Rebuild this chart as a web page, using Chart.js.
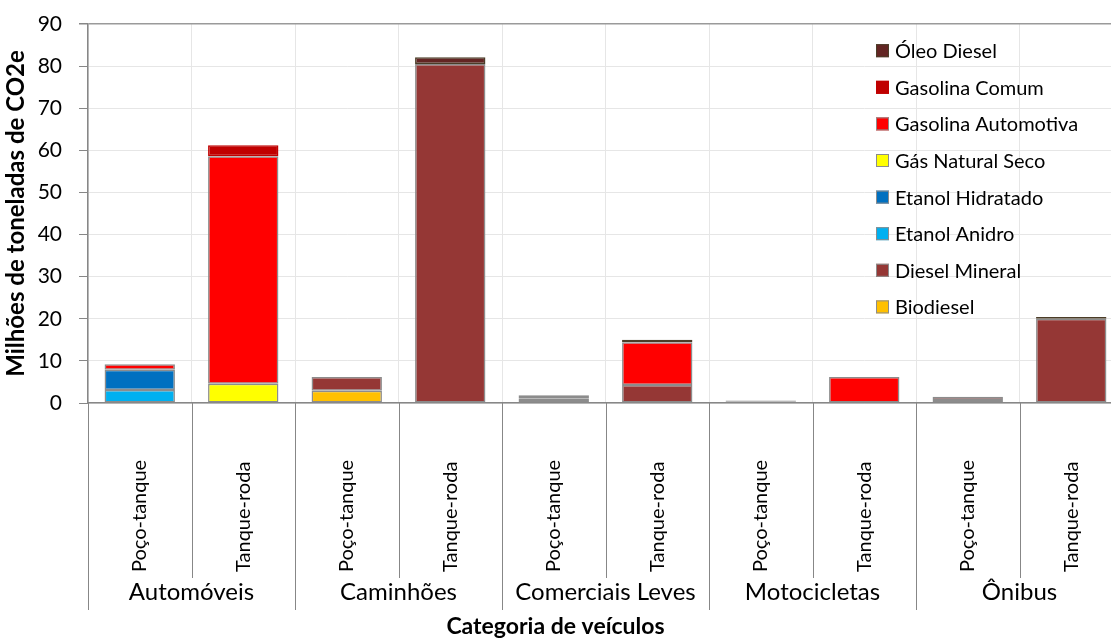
<!DOCTYPE html>
<html>
<head>
<meta charset="utf-8">
<script src="https://cdn.jsdelivr.net/npm/chart.js@4/dist/chart.umd.min.js"></script>
<style>
  html, body { margin: 0; padding: 0; background: #fff; overflow: hidden; }
  #wrap { width: 1111px; height: 639px; overflow: hidden; }
  canvas { display: block; }
</style>
</head>
<body>
<div id="wrap"><canvas id="c" width="1150" height="639"></canvas></div>
<script>
// Vehicle groups and life-cycle stages (two bars per group)
const groups = ['Automóveis', 'Caminhões', 'Comerciais Leves', 'Motocicletas', 'Ônibus'];
const stages = ['Poço-tanque', 'Tanque-roda'];
const categories = groups.flatMap(g => stages.map(s => s));

// Emissions by fuel, million tonnes CO2e, in category order
const biodiesel       = [0,   0,    2.9, 0,    0.1, 0,    0,   0,   0.7, 0];
const dieselMineral   = [0,   0,    3.3, 80.5, 0.4, 4.3,  0,   0,   0.8, 20.0];
const etanolAnidro    = [3.1, 0,    0,   0,    0.6, 0,    0.2, 0,   0,   0];
const etanolHidratado = [4.8, 0,    0,   0,    0.6, 0,    0.2, 0,   0,   0];
const gasNaturalSeco  = [0,   4.6,  0,   0,    0,   0,    0,   0,   0,   0];
const gasolinaAuto    = [1.3, 54.0, 0,   0,    0.2, 10.1, 0.2, 6.2, 0,   0];
const gasolinaComum   = [0,   2.6,  0,   0,    0,   0,    0,   0,   0,   0];
const oleoDiesel      = [0,   0,    0,   1.6,  0,   0.6,  0,   0,   0,   0.4];

const yTicks = [0, 10, 20, 30, 40, 50, 60, 70, 80, 90];

const FONT = 'Lato, "Open Sans", sans-serif';
const AXIS_GRAY = '#878787';

const series = [
  { label: 'Biodiesel',           data: biodiesel,       color: '#FFC000', border: '#8c8c8c' },
  { label: 'Diesel Mineral',      data: dieselMineral,   color: '#953735', border: '#8c8c8c' },
  { label: 'Etanol Anidro',       data: etanolAnidro,    color: '#00B0F0', border: '#8c8c8c' },
  { label: 'Etanol Hidratado',    data: etanolHidratado, color: '#0070C0', border: '#8c8c8c' },
  { label: 'Gás Natural Seco',    data: gasNaturalSeco,  color: '#FFFF00', border: '#8c8c8c' },
  { label: 'Gasolina Automotiva', data: gasolinaAuto,    color: '#FF0000', border: '#8c8c8c' },
  { label: 'Gasolina Comum',      data: gasolinaComum,   color: '#C00000', border: '#C00000' },
  { label: 'Óleo Diesel',         data: oleoDiesel,      color: '#632523', border: '#4b3d28' }
];

// Legend drawn inside the plot, top series first
const legendPlugin = {
  id: 'insideLegend',
  afterDraw(chart) {
    const ctx = chart.ctx;
    ctx.save();
    ctx.font = '20px ' + FONT;
    ctx.textBaseline = 'middle';
    ctx.textAlign = 'left';
    const ds = chart.data.datasets;
    for (let k = 0; k < ds.length; k++) {
      const d = ds[ds.length - 1 - k];
      const y = 50.7 + k * 36.6;
      ctx.fillStyle = d.backgroundColor;
      ctx.fillRect(876, y - 6.5, 13, 13);
      ctx.strokeStyle = d.borderColor;
      ctx.lineWidth = 1;
      ctx.strokeRect(876.5, y - 6, 12, 12);
      ctx.fillStyle = '#000';
      ctx.fillText(d.label, 895, y + 1);
    }
    ctx.restore();
  }
};

// Two-level category axis: stage labels, group labels and divider lines
const categoryAxisPlugin = {
  id: 'twoLevelAxis',
  afterDraw(chart) {
    const ctx = chart.ctx;
    const xs = chart.scales.x;
    const bottom = chart.chartArea.bottom;
    const n = categories.length;
    ctx.save();
    ctx.strokeStyle = AXIS_GRAY;
    ctx.lineWidth = 1;
    for (let i = 0; i <= n; i++) {
      const px = Math.round(xs.getPixelForValue(i - 0.5)) + 0.5;
      const len = (i % stages.length === 0) ? 207 : 175;
      ctx.beginPath();
      ctx.moveTo(px, bottom);
      ctx.lineTo(px, bottom + len);
      ctx.stroke();
    }
    ctx.fillStyle = '#000';
    ctx.font = '20px ' + FONT;
    ctx.textBaseline = 'middle';
    for (let i = 0; i < n; i++) {
      const cx = xs.getPixelForValue(i);
      ctx.save();
      ctx.translate(cx, bottom + 169);
      ctx.rotate(-Math.PI / 2);
      ctx.textAlign = 'left';
      ctx.fillText(categories[i], 0, 0);
      ctx.restore();
    }
    ctx.textAlign = 'center';
    ctx.font = '24px ' + FONT;
    for (let g = 0; g < groups.length; g++) {
      const a = xs.getPixelForValue(g * stages.length - 0.5);
      const b = xs.getPixelForValue((g + 1) * stages.length - 0.5);
      ctx.fillText(groups[g], (a + b) / 2, bottom + 189);
    }
    ctx.font = 'bold 23px ' + FONT;
    ctx.fillText('Categoria de veículos', 555.5, bottom + 224);
    ctx.restore();
  }
};

new Chart(document.getElementById('c'), {
  type: 'bar',
  data: {
    labels: categories,
    datasets: series.map(s => ({
      label: s.label,
      data: s.data,
      backgroundColor: s.color,
      borderColor: s.border,
      borderWidth: 1.5,
      borderSkipped: false,
      barPercentage: 0.68,
      categoryPercentage: 1.0
    }))
  },
  options: {
    responsive: false,
    animation: false,
    devicePixelRatio: 1,
    layout: { padding: { left: 0, right: 27, top: 24, bottom: 0 } },
    plugins: {
      legend: { display: false },
      tooltip: { enabled: false }
    },
    scales: {
      x: {
        stacked: true,
        offset: true,
        ticks: { display: false },
        grid: { display: true, offset: true, color: '#e6e6e6', drawTicks: false },
        border: { display: true, color: AXIS_GRAY, width: 1.5 },
        afterFit(scale) { scale.height = 236; }
      },
      y: {
        stacked: true,
        min: yTicks[0],
        max: yTicks[yTicks.length - 1],
        afterBuildTicks(scale) { scale.ticks = yTicks.map(v => ({ value: v })); },
        ticks: {
          color: '#000',
          font: { family: FONT, size: 21 },
          padding: 17
        },
        grid: {
          color: ctx => ctx.tick && ctx.tick.value === 90 ? '#9a9a9a' : '#e6e6e6',
          tickColor: AXIS_GRAY,
          tickLength: 9,
          lineWidth: ctx => ctx.tick && ctx.tick.value === 90 ? 1.5 : 1
        },
        border: { display: true, color: AXIS_GRAY, width: 1.5 },
        title: {
          display: true,
          text: 'Milhões de toneladas de CO2e',
          color: '#000',
          font: { family: FONT, size: 24, weight: 'bold' },
          padding: { top: 2, bottom: 0 }
        },
        afterFit(scale) {
          scale.width = 88;
          scale.paddingTop = 12;
          scale.paddingBottom = 12;
        }
      }
    }
  },
  plugins: [legendPlugin, categoryAxisPlugin]
});
</script>
</body>
</html>
